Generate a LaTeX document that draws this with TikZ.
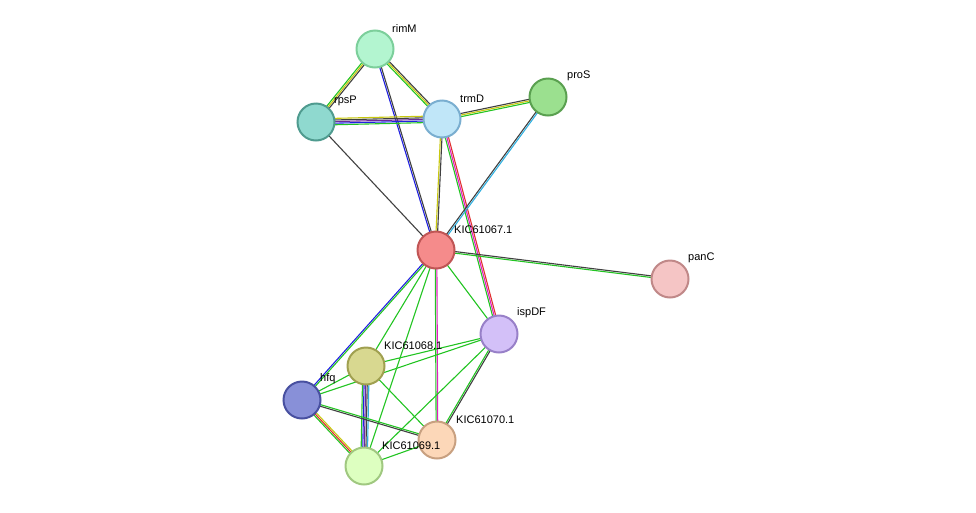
\documentclass[tikz,border=0pt]{standalone}
\usepackage{fontspec}
\setmainfont{Liberation Sans}
\usetikzlibrary{calc}
\definecolor{eg}{HTML}{22C422}
\definecolor{ey}{HTML}{C8C810}
\definecolor{eb}{HTML}{2020E0}
\definecolor{ek}{HTML}{404040}
\definecolor{ep}{HTML}{6A2A9A}
\definecolor{em}{HTML}{E020C0}
\definecolor{er}{HTML}{E03030}
\definecolor{ec}{HTML}{30B0E0}
\tikzset{
  pn/.style={circle,minimum size=37pt,inner sep=0pt,line width=2pt},
  lb/.style={font=\fontsize{11}{11}\selectfont,anchor=south west,inner sep=1pt},
  ed/.style={line width=1.1pt}
}
\newcommand{\edg}[4]{% a b n colors
  \foreach \c [count=\i] in {#4}{
    \pgfmathsetmacro{\o}{(\i-(#3+1)/2)*1.6}
    \draw[ed,\c] ($(#1)!\o pt!90:(#2)$) -- ($(#2)!\o pt!-90:(#1)$);
  }}
\begin{document}
\begin{tikzpicture}[x=1pt,y=-1pt]
\useasboundingbox (0,0) rectangle (976,512);
\coordinate (rimM) at (375,49);
\coordinate (rpsP) at (316,122);
\coordinate (trmD) at (442,119);
\coordinate (proS) at (548,97);
\coordinate (k67) at (436,250);
\coordinate (panC) at (670,279);
\coordinate (ispDF) at (499,334);
\coordinate (k68) at (366,366);
\coordinate (hfq) at (302,400);
\coordinate (k70) at (437,440);
\coordinate (k69) at (364,466);
\edg{rimM}{rpsP}{3}{eg,ey,ek}
\edg{rimM}{trmD}{3}{eg,ey,ek}
\edg{rimM}{k67}{2}{eb,ek}
\edg{rpsP}{trmD}{5}{eg,eb,ep,ek,ey}
\edg{rpsP}{k67}{1}{ek}
\edg{trmD}{proS}{3}{eg,ey,ek}
\edg{trmD}{k67}{2}{ey,ek}
\edg{trmD}{ispDF}{3}{eg,em,er}
\edg{proS}{k67}{2}{ek,ec}
\edg{k67}{panC}{2}{eg,ek}
\edg{k67}{ispDF}{1}{eg}
\edg{k67}{hfq}{2}{eb,eg}
\edg{k67}{k68}{1}{eg}
\edg{k67}{k70}{2}{eg,em}
\edg{k67}{k69}{1}{eg}
\edg{ispDF}{k68}{1}{eg}
\edg{ispDF}{hfq}{1}{eg}
\edg{ispDF}{k70}{2}{eg,ek}
\edg{ispDF}{k69}{1}{eg}
\edg{k68}{hfq}{1}{eg}
\edg{k68}{k69}{5}{eg,eb,ep,ek,ec}
\edg{k68}{k70}{1}{eg}
\edg{hfq}{k69}{3}{eg,er,ey}
\edg{hfq}{k70}{2}{ek,eg}
\edg{k69}{k70}{1}{eg}
\node[pn,fill={rgb,255:red,179;green,245;blue,208},draw={rgb,255:red,124;green,207;blue,155}] (nrimM) at (rimM) {};
\node[pn,fill={rgb,255:red,143;green,217;blue,207},draw={rgb,255:red,79;green,155;blue,143}] (nrpsP) at (rpsP) {};
\node[pn,fill={rgb,255:red,192;green,230;blue,248},draw={rgb,255:red,122;green,174;blue,208}] (ntrmD) at (trmD) {};
\node[pn,fill={rgb,255:red,155;green,224;blue,143},draw={rgb,255:red,90;green,160;blue,80}] (nproS) at (proS) {};
\node[pn,fill={rgb,255:red,245;green,139;blue,139},draw={rgb,255:red,192;green,85;blue,85}] (nk67) at (k67) {};
\node[pn,fill={rgb,255:red,245;green,197;blue,197},draw={rgb,255:red,192;green,136;blue,136}] (npanC) at (panC) {};
\node[pn,fill={rgb,255:red,211;green,192;blue,248},draw={rgb,255:red,152;green,128;blue,200}] (nispDF) at (ispDF) {};
\node[pn,fill={rgb,255:red,216;green,216;blue,144},draw={rgb,255:red,160;green,160;blue,80}] (nk68) at (k68) {};
\node[pn,fill={rgb,255:red,136;green,144;blue,216},draw={rgb,255:red,72;green,80;blue,160}] (nhfq) at (hfq) {};
\node[pn,fill={rgb,255:red,252;green,215;blue,184},draw={rgb,255:red,200;green,160;blue,128}] (nk70) at (k70) {};
\node[pn,fill={rgb,255:red,221;green,255;blue,192},draw={rgb,255:red,160;green,200;blue,128}] (nk69) at (k69) {};
\node[lb] (lrimM) at (391,34) {rimM};
\node[lb] (lrpsP) at (333,107) {rpsP};
\node[lb] (ltrmD) at (459,104) {trmD};
\node[lb] (lproS) at (566,82) {proS};
\node[lb] (lk67) at (453,235) {KIC61067.1};
\node[lb] (lpanC) at (687,264) {panC};
\node[lb] (lispDF) at (516,319) {ispDF};
\node[lb] (lk68) at (383,351) {KIC61068.1};
\node[lb] (lhfq) at (319,385) {hfq};
\node[lb] (lk70) at (455,425) {KIC61070.1};
\node[lb] (lk69) at (381,451) {KIC61069.1};
\end{tikzpicture}
\end{document}
